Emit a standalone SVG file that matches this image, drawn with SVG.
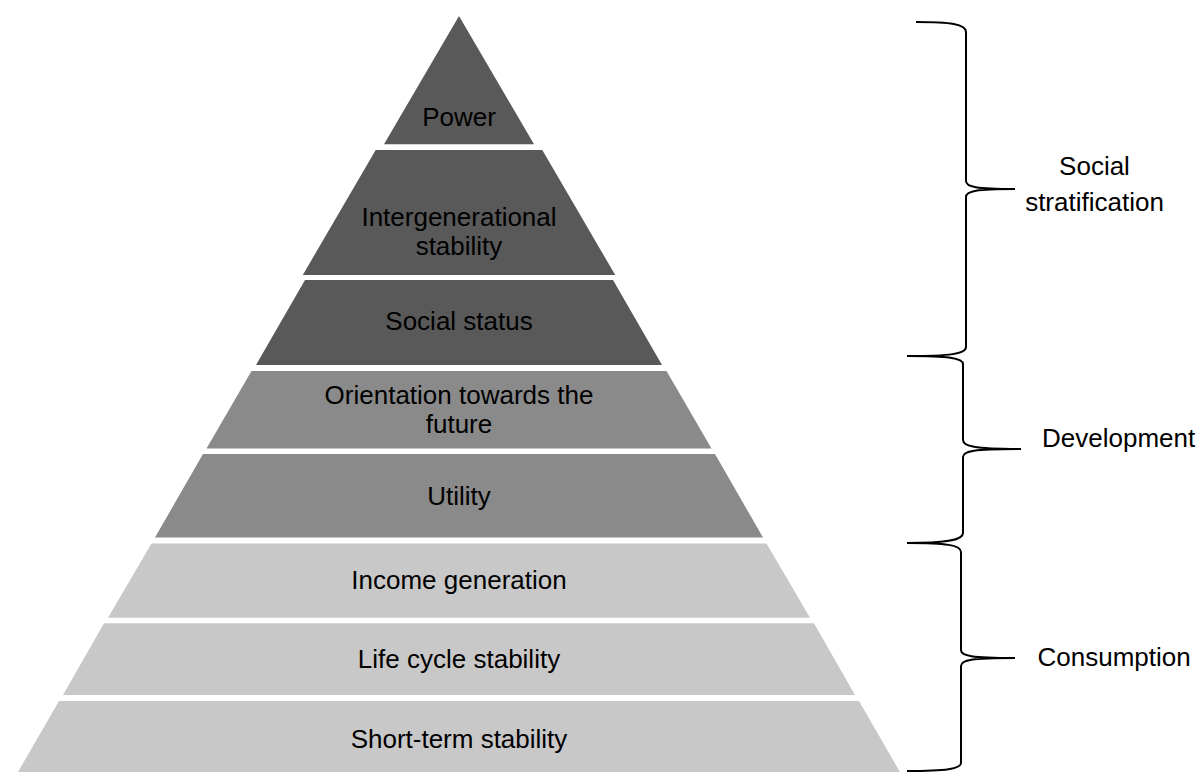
<svg xmlns="http://www.w3.org/2000/svg" width="1200" height="772" viewBox="0 0 1200 772">
  <style>
    .dark { fill: #595959; }
    .mid { fill: #8a8a8a; }
    .light { fill: #c8c8c8; }
    text { font-family: "Liberation Sans", Arial, sans-serif; font-size: 26px; fill: #000000; }
    .c { text-anchor: middle; }
    .brace { fill: none; stroke: #000000; stroke-width: 2; stroke-linejoin: round; stroke-linecap: butt; }
  </style>
  <rect width="1200" height="772" fill="#ffffff"/>

  <!-- pyramid tiers, top to bottom -->
  <g id="tier-power">
    <polygon class="dark" points="459,16 534,144.3 384,144.3"/>
    <text class="c" x="459" y="126">Power</text>
  </g>
  <g id="tier-intergenerational">
    <polygon class="dark" points="375.7,150 542.3,150 615.2,275 302.8,275"/>
    <text class="c" x="459" y="225.5">Intergenerational</text>
    <text class="c" x="459" y="254.5">stability</text>
  </g>
  <g id="tier-social-status">
    <polygon class="dark" points="305,280 613,280 662,365 256,365"/>
    <text class="c" x="459" y="330">Social status</text>
  </g>
  <g id="tier-orientation">
    <polygon class="mid" points="251.5,371 666.5,371 711.5,448.5 206.5,448.5"/>
    <text class="c" x="459" y="404">Orientation towards the</text>
    <text class="c" x="459" y="433">future</text>
  </g>
  <g id="tier-utility">
    <polygon class="mid" points="203,454 715,454 763,537.5 155,537.5"/>
    <text class="c" x="459" y="505">Utility</text>
  </g>
  <g id="tier-income">
    <polygon class="light" points="151.5,543.5 766.5,543.5 810,617.7 108,617.7"/>
    <text class="c" x="459" y="589">Income generation</text>
  </g>
  <g id="tier-life-cycle">
    <polygon class="light" points="104,623.3 814,623.3 855,695 63,695"/>
    <text class="c" x="459" y="667.5">Life cycle stability</text>
  </g>
  <g id="tier-short-term">
    <polygon class="light" points="59,701 859,701 900,772 18,772"/>
    <text class="c" x="459" y="747.5">Short-term stability</text>
  </g>

  <!-- grouping braces -->
  <g id="connectors">
    <path class="brace" d="M916,22 C950,22 966,24 966,32 L966,181 C966,187 976,189 1015,189 M1015,189 C976,189 966,191 966,197 L966,347 C966,354 950,356 907,356"/>
    <path class="brace" d="M907,356 C948,356 963,358 963,364 L963,440 C963,446 973,449 1021,449 M1021,449 C973,449 963,451 963,457 L963,533 C963,540 948,543 907,543"/>
    <path class="brace" d="M907,543 C946,543 961,545 961,552 L961,650 C961,656 971,658 1015,658 M1015,658 C971,658 961,660 961,666 L961,763 C961,769 946,771 907,771"/>
  </g>

  <!-- group labels -->
  <g id="label-social-stratification">
    <text class="c" x="1094.5" y="175">Social</text>
    <text class="c" x="1094.5" y="211">stratification</text>
  </g>
  <g id="label-development">
    <text x="1042" y="447">Development</text>
  </g>
  <g id="label-consumption">
    <text x="1037.5" y="666">Consumption</text>
  </g>
</svg>
